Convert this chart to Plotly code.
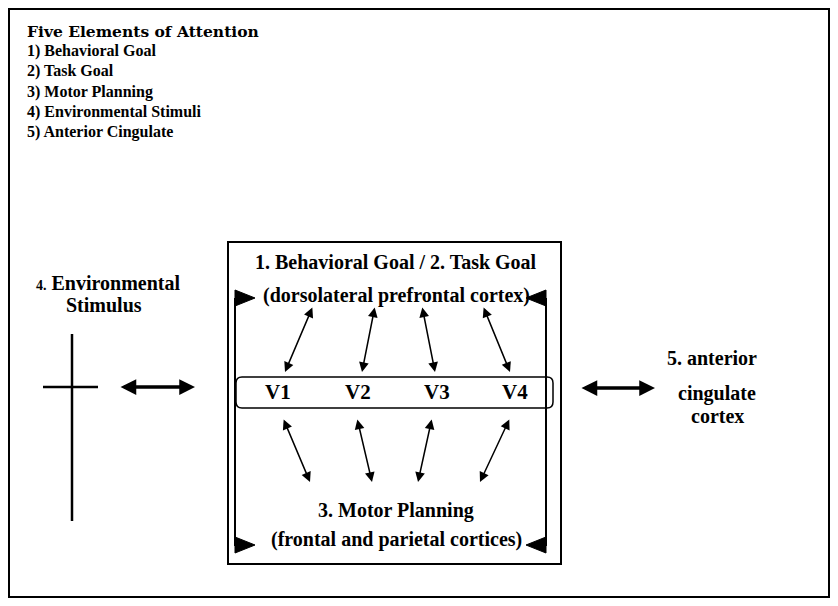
import plotly.graph_objects as go

# The page body has an 8px margin; the figure is sized to fit inside the
# 838x606 window and its axes are offset so data coordinates equal screen pixels.
VW, VH, OFF = 838, 606, 8
FONT = "Liberation Serif"

# ---- text content ----
legend_title = "Five Elements of Attention"
legend_items = ["1) Behavioral Goal", "2) Task Goal", "3) Motor Planning",
                "4) Environmental Stimuli", "5) Anterior Cingulate"]
v_labels = ["V1", "V2", "V3", "V4"]
top_lines = ["1. Behavioral Goal / 2. Task Goal", "(dorsolateral prefrontal cortex)"]
bottom_lines = ["3. Motor Planning", "(frontal and parietal cortices)"]
left_lines = ["<span style='font-size:14px'>4.</span> Environmental", "Stimulus"]
right_lines = ["5. anterior", "cingulate", "cortex"]

# ---- layout positions (pixels) ----
legend_x, legend_y0, legend_dy = 25, 31, 20.2
v_x = [278, 358, 437, 515]
v_y = 392
top_y = [262, 295]
bottom_y = [510, 539]
inner_cx = 396
left_pos = [(108, 283), (104, 305)]
right_pos = [(712, 358), (717, 393), (717, 416)]

# arrow endpoints (tail, head) for the small double arrows
top_arrows = [((313, 306), (285, 372)), ((375, 306), (362, 372)),
              ((422, 306), (435, 372)), ((483, 306), (510, 372))]
bottom_arrows = [((283, 418), (310, 482)), ((357, 418), (372, 482)),
                 ((432, 418), (418, 482)), ((510, 418), (480, 482))]
big_arrows = [((119, 387), (195, 387)), ((580, 388), (655, 388))]

fig = go.Figure()
fig.add_trace(go.Scatter(x=[20], y=[20], mode="markers", marker=dict(opacity=0),
                         hoverinfo="skip", showlegend=False))

shapes = []
ann = []

def line(x0, y0, x1, y1, w=2):
    shapes.append(dict(type="line", x0=x0, y0=y0, x1=x1, y1=y1, xref="x", yref="y",
                       line=dict(color="black", width=w)))

def tri(pts):
    p = "M " + " L ".join(f"{a},{b}" for a, b in pts) + " Z"
    shapes.append(dict(type="path", path=p, xref="x", yref="y", fillcolor="black",
                       line=dict(color="black", width=1)))

# outer frame (kept within the visible page area)
shapes.append(dict(type="rect", x0=9, y0=9, x1=829, y1=597, xref="x", yref="y",
                   line=dict(color="black", width=2)))
# inner box
shapes.append(dict(type="rect", x0=228, y0=242, x1=561, y1=564, xref="x", yref="y",
                   line=dict(color="black", width=2)))
# bracket lines
line(235, 298, 235, 546, 2)
line(546, 298, 546, 546, 2)
tri([(235, 290), (235, 306), (255, 298)])
tri([(546, 290), (546, 306), (526, 298)])
tri([(235, 537), (235, 553), (255, 545)])
tri([(546, 537), (546, 553), (526, 545)])
# V box rounded
r = 6
x0, y0, x1, y1 = 236, 377, 553, 408
path = (f"M {x0+r},{y0} L {x1-r},{y0} Q {x1},{y0} {x1},{y0+r} L {x1},{y1-r} Q {x1},{y1} {x1-r},{y1} "
        f"L {x0+r},{y1} Q {x0},{y1} {x0},{y1-r} L {x0},{y0+r} Q {x0},{y0} {x0+r},{y0} Z")
shapes.append(dict(type="path", path=path, xref="x", yref="y", line=dict(color="black", width=1.5)))
# cross (environmental stimulus)
line(72, 334, 72, 521, 2.5)
line(43, 387, 98, 387, 2.5)

def text(x, y, s, size=20, anchor="center", family=FONT):
    ann.append(dict(x=x, y=y, xref="x", yref="y", text="<b>" + s + "</b>", showarrow=False,
                    xanchor=anchor, yanchor="middle",
                    font=dict(family=family, size=size, color="black")))

text(legend_x, legend_y0, legend_title, 15.5, "left", "DejaVu Serif")
for i, s in enumerate(legend_items):
    text(legend_x, legend_y0 + legend_dy * (i + 1), s, 16, "left")
for x, s in zip(v_x, v_labels):
    text(x, v_y, s, 21)
for y, s in zip(top_y, top_lines):
    text(inner_cx, y, s, 20)
for y, s in zip(bottom_y, bottom_lines):
    text(inner_cx, y, s, 20)
for (x, y), s in zip(left_pos, left_lines):
    text(x, y, s, 20)
for (x, y), s in zip(right_pos, right_lines):
    text(x, y, s, 20)

def darrow(a, b, w, size):
    ann.append(dict(x=b[0], y=b[1], ax=a[0], ay=a[1], xref="x", yref="y", axref="x", ayref="y",
                    text="", showarrow=True, arrowhead=2, startarrowhead=2, arrowside="end+start",
                    arrowwidth=w, arrowsize=size, startarrowsize=size, arrowcolor="black",
                    standoff=0, startstandoff=0))

for a, b in top_arrows + bottom_arrows:
    darrow(a, b, 1.5, 1.3)
for a, b in big_arrows:
    darrow(a, b, 3.5, 0.9)

fig.update_layout(
    width=VW - 2 * OFF, height=VH - 2 * OFF, margin=dict(l=0, r=0, t=0, b=0),
    paper_bgcolor="white", plot_bgcolor="white",
    xaxis=dict(range=[OFF, VW - OFF], visible=False, fixedrange=True),
    yaxis=dict(range=[VH - OFF, OFF], visible=False, fixedrange=True),
    shapes=shapes, annotations=ann, showlegend=False,
)
fig.write_html("out.html")
